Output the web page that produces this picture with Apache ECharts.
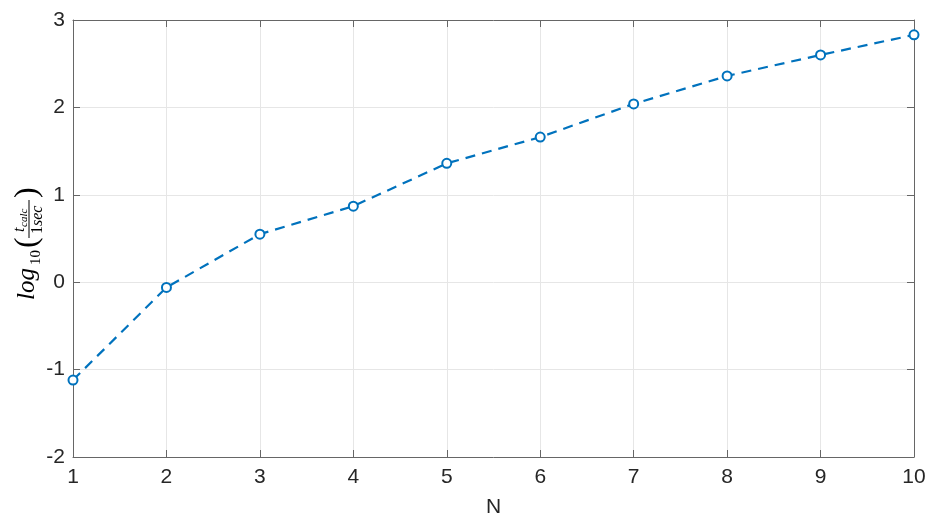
<!DOCTYPE html>
<html>
<head>
<meta charset="utf-8">
<title>log10 t_calc vs N</title>
<script src="https://cdn.jsdelivr.net/npm/echarts@6/dist/echarts.min.js"></script>
<style>
  html, body { margin: 0; padding: 0; background: #fff; }
  #chart { width: 940px; height: 532px; }
</style>
</head>
<body>
<div id="chart"></div>
<script>
// 数据
const nValues = [1, 2, 3, 4, 5, 6, 7, 8, 9, 10];
const logTime = [-1.12, -0.06, 0.55, 0.87, 1.36, 1.66, 2.04, 2.36, 2.60, 2.83];
const yTicks = [-2, -1, 0, 1, 2, 3];

const axisColor = "#666";
const gridColor = "#e6e6e6";
const labelColor = "#262626";
const serif = "Liberation Serif";

const chart = echarts.init(document.getElementById("chart"));

// 四周的框和朝内的刻度
const frameAxis = (extra) => Object.assign({
  axisLine: { show: true, onZero: false, lineStyle: { color: axisColor, width: 1 } },
  axisTick: { show: true, inside: true, length: 7, lineStyle: { color: axisColor } },
  splitLine: { show: false },
  axisLabel: { show: false },
}, extra);

const option = {
  animation: false,
  grid: { left: 73, right: 26, top: 20, bottom: 75, containLabel: false },
  xAxis: [
    {
      type: "value",
      min: 1,
      max: 10,
      interval: 1,
      name: "N",
      nameLocation: "middle",
      nameGap: 40,
      nameTextStyle: { color: labelColor, fontSize: 21, fontFamily: "Liberation Sans" },
      axisLine: { show: true, onZero: false, lineStyle: { color: axisColor, width: 1 } },
      axisTick: { show: true, inside: true, length: 7, lineStyle: { color: axisColor } },
      splitLine: { show: true, lineStyle: { color: gridColor, width: 1 } },
      axisLabel: { color: labelColor, fontSize: 21, fontFamily: "Liberation Sans", margin: 10 },
    },
    frameAxis({ type: "value", min: 1, max: 10, interval: 1, position: "top" }),
  ],
  yAxis: [
    {
      type: "value",
      min: yTicks[0],
      max: yTicks[yTicks.length - 1],
      interval: 1,
      axisLine: { show: true, onZero: false, lineStyle: { color: axisColor, width: 1 } },
      axisTick: { show: true, inside: true, length: 7, lineStyle: { color: axisColor } },
      splitLine: { show: true, lineStyle: { color: gridColor, width: 1 } },
      axisLabel: { color: labelColor, fontSize: 21, fontFamily: "Liberation Sans", margin: 8 },
    },
    frameAxis({ type: "value", min: -2, max: 3, interval: 1, position: "right" }),
  ],
  series: [
    {
      type: "line",
      data: nValues.map((n, i) => [n, logTime[i]]),
      symbol: "emptyCircle",
      symbolSize: 9,
      clip: false,
      lineStyle: { color: "#0072BD", width: 2.2, type: [10, 7] },
      itemStyle: { color: "#0072BD", borderColor: "#0072BD", borderWidth: 2.2 },
    },
  ],
  // y轴标题 log10(t_calc / 1sec)
  graphic: [
    {
      type: "group",
      x: 35,
      y: 300,
      rotation: Math.PI / 2,
      children: [
        { type: "text", x: 0, y: -8, style: { text: "log", font: "italic 25px " + serif, fill: "#000", verticalAlign: "middle" } },
        { type: "text", x: 35, y: 1, style: { text: "10", font: "15px " + serif, fill: "#000", verticalAlign: "middle" } },
        { type: "text", x: 52, y: -7, style: { text: "(", font: "32px " + serif, fill: "#000", verticalAlign: "middle" } },
        { type: "text", x: 68, y: -15, style: { text: "t", font: "italic 16px " + serif, fill: "#000", verticalAlign: "middle" } },
        { type: "text", x: 73, y: -11, style: { text: "calc", font: "italic 11px " + serif, fill: "#000", verticalAlign: "middle" } },
        { type: "line", shape: { x1: 62, y1: -6, x2: 100, y2: -6 }, style: { stroke: "#000", lineWidth: 1 } },
        { type: "text", x: 66, y: 3, style: { text: "1", font: "16px " + serif, fill: "#000", verticalAlign: "middle" } },
        { type: "text", x: 74, y: 3, style: { text: "sec", font: "italic 16px " + serif, fill: "#000", verticalAlign: "middle" } },
        { type: "text", x: 102, y: -7, style: { text: ")", font: "32px " + serif, fill: "#000", verticalAlign: "middle" } },
      ],
    },
  ],
};

chart.setOption(option);
window.addEventListener("resize", () => {
  chart.resize();
});
</script>
</body>
</html>
